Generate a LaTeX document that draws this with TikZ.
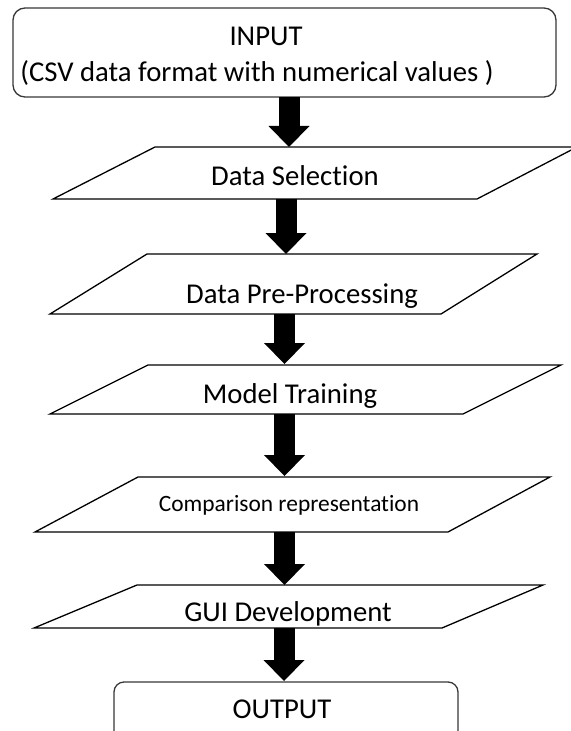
\documentclass[tikz,border=0pt]{standalone}
\usepackage{fontspec}
\setmainfont{Carlito}[Ligatures=NoCommon]
\usetikzlibrary{arrows.meta}
\begin{document}
\begin{tikzpicture}[x=1bp,y=-1bp,
  lbl/.style={font=\fontsize{28.7bp}{34bp}\selectfont, inner sep=0pt, anchor=base},
  small/.style={font=\fontsize{23.4bp}{28bp}\selectfont, inner sep=0pt, anchor=base},
  rbox/.style={draw=black!78, line width=1.3bp, rounded corners=12bp, inner sep=0pt},
  para/.style={draw=black, line width=1.3bp},
  flow/.style={line width=21bp, -{Triangle[width=41bp,length=21bp,line width=0pt]}}]
\useasboundingbox (0,0) rectangle (571,731);
\clip (0,0) rectangle (571,731);
% boxes
\node[rbox, minimum width=543bp, minimum height=89bp] (input) at (284.5,52.5) {};
\node[lbl] (intitle) at (266,46) {INPUT};
\node[lbl] (indesc) at (257,82) {(CSV data format with numerical values )};
\draw[para] (155,147) -- (577,147) -- (477,199) -- (53,199) -- cycle;
\node[lbl] (sel) at (295,185) {Data Selection};
\draw[para] (147,254) -- (537,254) -- (441,314) -- (50,314) -- cycle;
\node[lbl] (pre) at (302,303) {Data Pre-Processing};
\draw[para] (148,365) -- (561,365) -- (463,414) -- (50,414) -- cycle;
\node[lbl] (train) at (290,403) {Model Training};
\draw[para] (138,477) -- (550,477) -- (448,532) -- (35,532) -- cycle;
\node[small] (comp) at (289,511) {Comparison representation};
\draw[para] (137,585) -- (543,585) -- (442,628) -- (34,628) -- cycle;
\node[lbl] (gui) at (288,621) {GUI Development};
\node[rbox, rounded corners=10bp, minimum width=344bp, minimum height=80bp] (output) at (286,722) {};
\node[lbl] (outtxt) at (282,718) {OUTPUT};
% connector ends
\coordinate (a1s) at (289,97);   \coordinate (a1e) at (289,147);
\coordinate (a2s) at (286,199);  \coordinate (a2e) at (286,254);
\coordinate (a3s) at (284.5,314); \coordinate (a3e) at (284.5,364);
\coordinate (a4s) at (284.5,414); \coordinate (a4e) at (284.5,476);
\coordinate (a5s) at (284.5,532); \coordinate (a5e) at (284.5,585);
\coordinate (a6s) at (284,628);  \coordinate (a6e) at (284,681);
\draw[flow] (a1s) -- (a1e);
\draw[flow] (a2s) -- (a2e);
\draw[flow] (a3s) -- (a3e);
\draw[flow] (a4s) -- (a4e);
\draw[flow] (a5s) -- (a5e);
\draw[flow] (a6s) -- (a6e);
\end{tikzpicture}
\end{document}
